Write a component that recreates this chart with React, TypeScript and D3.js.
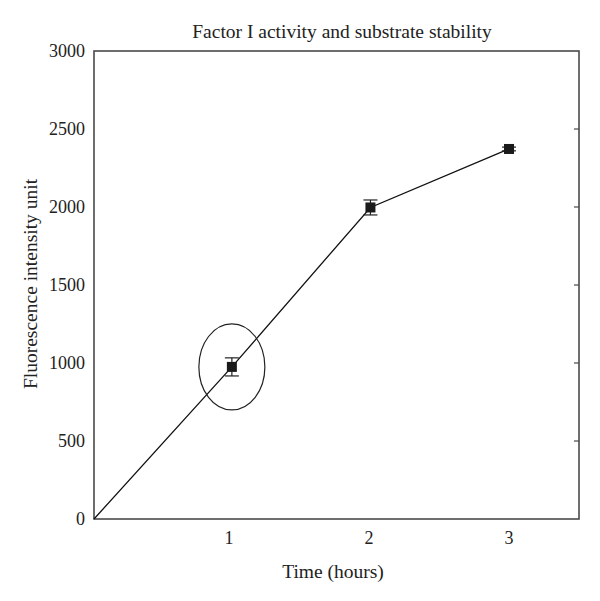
import React, { useEffect, useRef } from 'react';
import * as d3 from 'd3';

const timeHours = [0.035, 1.02, 2.01, 3.0];
const intensity = [0, 975, 1997, 2372];
const errorBars = [0, 58, 48, 12];
const showMarker = [false, true, true, true];
const yTicks = [0, 500, 1000, 1500, 2000, 2500, 3000];
const xTicks = [1, 2, 3];

const App = () => {
  const chart = useRef<SVGSVGElement>(null);

  useEffect(() => {
    const svg = d3.select(chart.current);
    svg.selectAll('*').remove();

    const left = 94, right = 579, top = 51, bottom = 519;
    const x = d3.scaleLinear().domain([0.035, 3.5]).range([left, right]);
    const y = d3.scaleLinear().domain([0, 3000]).range([bottom, top]);
    const font = '"Liberation Serif", "DejaVu Serif", serif';
    const axisColor = '#4a4a4a';

    // frame
    svg.append('rect')
      .attr('x', left).attr('y', top)
      .attr('width', right - left).attr('height', bottom - top)
      .attr('fill', 'none').attr('stroke', axisColor).attr('stroke-width', 1.6);

    // y tick labels + inner ticks on the right side
    svg.selectAll('.ylab')
      .data(yTicks)
      .enter().append('text')
      .attr('x', left - 9)
      .attr('y', d => y(d) + 6)
      .attr('text-anchor', 'end')
      .attr('font-family', font)
      .attr('font-size', 18)
      .attr('fill', '#222')
      .text(d => d);

    svg.selectAll('.ytick')
      .data(yTicks.slice(1, -1))
      .enter().append('line')
      .attr('x1', right).attr('x2', right - 5)
      .attr('y1', d => y(d)).attr('y2', d => y(d))
      .attr('stroke', axisColor).attr('stroke-width', 1.2);

    svg.selectAll('.xlab')
      .data(xTicks)
      .enter().append('text')
      .attr('x', d => x(d))
      .attr('y', bottom + 25)
      .attr('text-anchor', 'middle')
      .attr('font-family', font)
      .attr('font-size', 18)
      .attr('fill', '#222')
      .text(d => d);

    // data line
    const pts = timeHours.map((t, i) => [t, intensity[i]] as [number, number]);
    svg.append('path')
      .datum(pts)
      .attr('d', d3.line<[number, number]>().x(d => x(d[0])).y(d => y(d[1])))
      .attr('fill', 'none').attr('stroke', '#111').attr('stroke-width', 1.3);

    // error bars
    const idx = d3.range(timeHours.length).filter(i => showMarker[i]);
    const eb = svg.selectAll('.eb').data(idx).enter().append('g');
    eb.append('line')
      .attr('x1', i => x(timeHours[i])).attr('x2', i => x(timeHours[i]))
      .attr('y1', i => y(intensity[i] - errorBars[i])).attr('y2', i => y(intensity[i] + errorBars[i]))
      .attr('stroke', '#222').attr('stroke-width', 1.2);
    [-1, 1].forEach(s => {
      eb.append('line')
        .attr('x1', i => x(timeHours[i]) - 7).attr('x2', i => x(timeHours[i]) + 7)
        .attr('y1', i => y(intensity[i] + s * errorBars[i])).attr('y2', i => y(intensity[i] + s * errorBars[i]))
        .attr('stroke', '#222').attr('stroke-width', 1.2);
    });

    // square markers
    svg.selectAll('.mk').data(idx).enter().append('rect')
      .attr('x', i => x(timeHours[i]) - 5)
      .attr('y', i => y(intensity[i]) - 5)
      .attr('width', 10).attr('height', 10)
      .attr('fill', '#1a1a1a');

    // ellipse around the 1 hour point
    svg.append('ellipse')
      .attr('cx', x(timeHours[1]))
      .attr('cy', y(intensity[1]))
      .attr('rx', 33).attr('ry', 43)
      .attr('fill', 'none').attr('stroke', '#222').attr('stroke-width', 1.2);

    // titles
    svg.append('text')
      .attr('x', 342).attr('y', 38)
      .attr('text-anchor', 'middle')
      .attr('font-family', font).attr('font-size', 19.5).attr('fill', '#222')
      .text('Factor I activity and substrate stability');

    svg.append('text')
      .attr('x', 333).attr('y', 578)
      .attr('text-anchor', 'middle')
      .attr('font-family', font).attr('font-size', 19.5).attr('fill', '#222')
      .text('Time (hours)');

    svg.append('text')
      .attr('transform', 'translate(37,284) rotate(-90)')
      .attr('text-anchor', 'middle')
      .attr('font-family', font).attr('font-size', 19.5).attr('fill', '#222')
      .text('Fluorescence intensity unit');
  }, []);

  return (
    <div style={{ position: 'absolute', left: 0, top: 0 }}>
      <svg ref={chart} width={600} height={601} style={{ background: '#fff', display: 'block' }}></svg>
    </div>
  );
};

export default App;
